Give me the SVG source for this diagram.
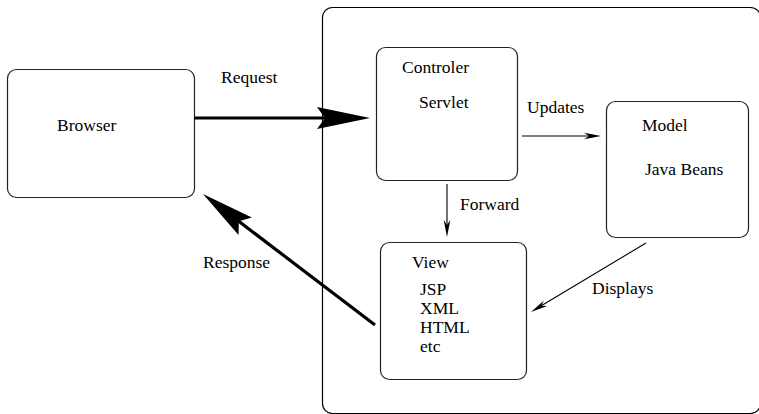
<svg xmlns="http://www.w3.org/2000/svg" width="759" height="414" viewBox="0 0 759 414">
<style>
.box{fill:#fff;stroke:#222;stroke-width:1.2}
.cont{fill:none;stroke:#000;stroke-width:1.2}
.lbl{font-family:'Liberation Serif','Times New Roman',serif;font-size:17.5px;fill:#000}
.thick{fill:none;stroke:#000;stroke-width:3.2}
.thin{fill:none;stroke:#000;stroke-width:1.1}
</style>
<defs>
<marker id="bighead" markerUnits="userSpaceOnUse" viewBox="-60 -15 65 30" markerWidth="65" markerHeight="30" refX="-45" refY="0" orient="auto">
<path d="M0,0 L-53,-11 L-45,0 L-53,11 Z" fill="#000"/>
</marker>
<marker id="smallhead" markerUnits="userSpaceOnUse" viewBox="-20 -6 24 12" markerWidth="24" markerHeight="12" refX="-12" refY="0" orient="auto">
<path d="M0,0 L-17,-3.3 L-12,0 L-17,3.3 Z" fill="#000"/>
</marker>
</defs>
<rect class="cont" x="322.5" y="7.5" width="438" height="406" rx="10"/>
<g id="browser">
<rect class="box" x="7.5" y="69.5" width="187" height="128" rx="9"/>
<text class="lbl" font-family="Liberation Serif, serif" x="57" y="131">Browser</text>
</g>
<g id="controller">
<rect class="box" x="376.5" y="47.5" width="141" height="133" rx="9"/>
<text class="lbl" font-family="Liberation Serif, serif" x="402" y="73">Controler</text>
<text class="lbl" font-family="Liberation Serif, serif" x="419" y="108">Servlet</text>
</g>
<g id="model">
<rect class="box" x="606.5" y="101.5" width="142" height="136" rx="9"/>
<text class="lbl" font-family="Liberation Serif, serif" x="642" y="131">Model</text>
<text class="lbl" font-family="Liberation Serif, serif" x="645" y="175">Java Beans</text>
</g>
<g id="view">
<rect class="box" x="380.5" y="242.5" width="146" height="137" rx="9"/>
<text class="lbl" font-family="Liberation Serif, serif" x="412" y="268">View</text>
<text class="lbl" font-family="Liberation Serif, serif" x="420" y="295">JSP</text>
<text class="lbl" font-family="Liberation Serif, serif" x="420" y="314">XML</text>
<text class="lbl" font-family="Liberation Serif, serif" x="420" y="333">HTML</text>
<text class="lbl" font-family="Liberation Serif, serif" x="420" y="352">etc</text>
</g>
<g id="connectors">
<path class="thick" d="M194,118 L325,118" marker-end="url(#bighead)"/>
<text class="lbl" font-family="Liberation Serif, serif" x="221" y="83">Request</text>
<path class="thick" d="M375,325 L238.8,221.3" marker-end="url(#bighead)"/>
<text class="lbl" font-family="Liberation Serif, serif" x="203" y="268">Response</text>
<path class="thin" d="M522,136 L589,136" marker-end="url(#smallhead)"/>
<text class="lbl" font-family="Liberation Serif, serif" x="527" y="113">Updates</text>
<path class="thin" d="M447,184 L447,225" marker-end="url(#smallhead)"/>
<text class="lbl" font-family="Liberation Serif, serif" x="460" y="210">Forward</text>
<path class="thin" d="M646,243 L541.3,305.8" marker-end="url(#smallhead)"/>
<text class="lbl" font-family="Liberation Serif, serif" x="592" y="294">Displays</text>
</g>
</svg>
